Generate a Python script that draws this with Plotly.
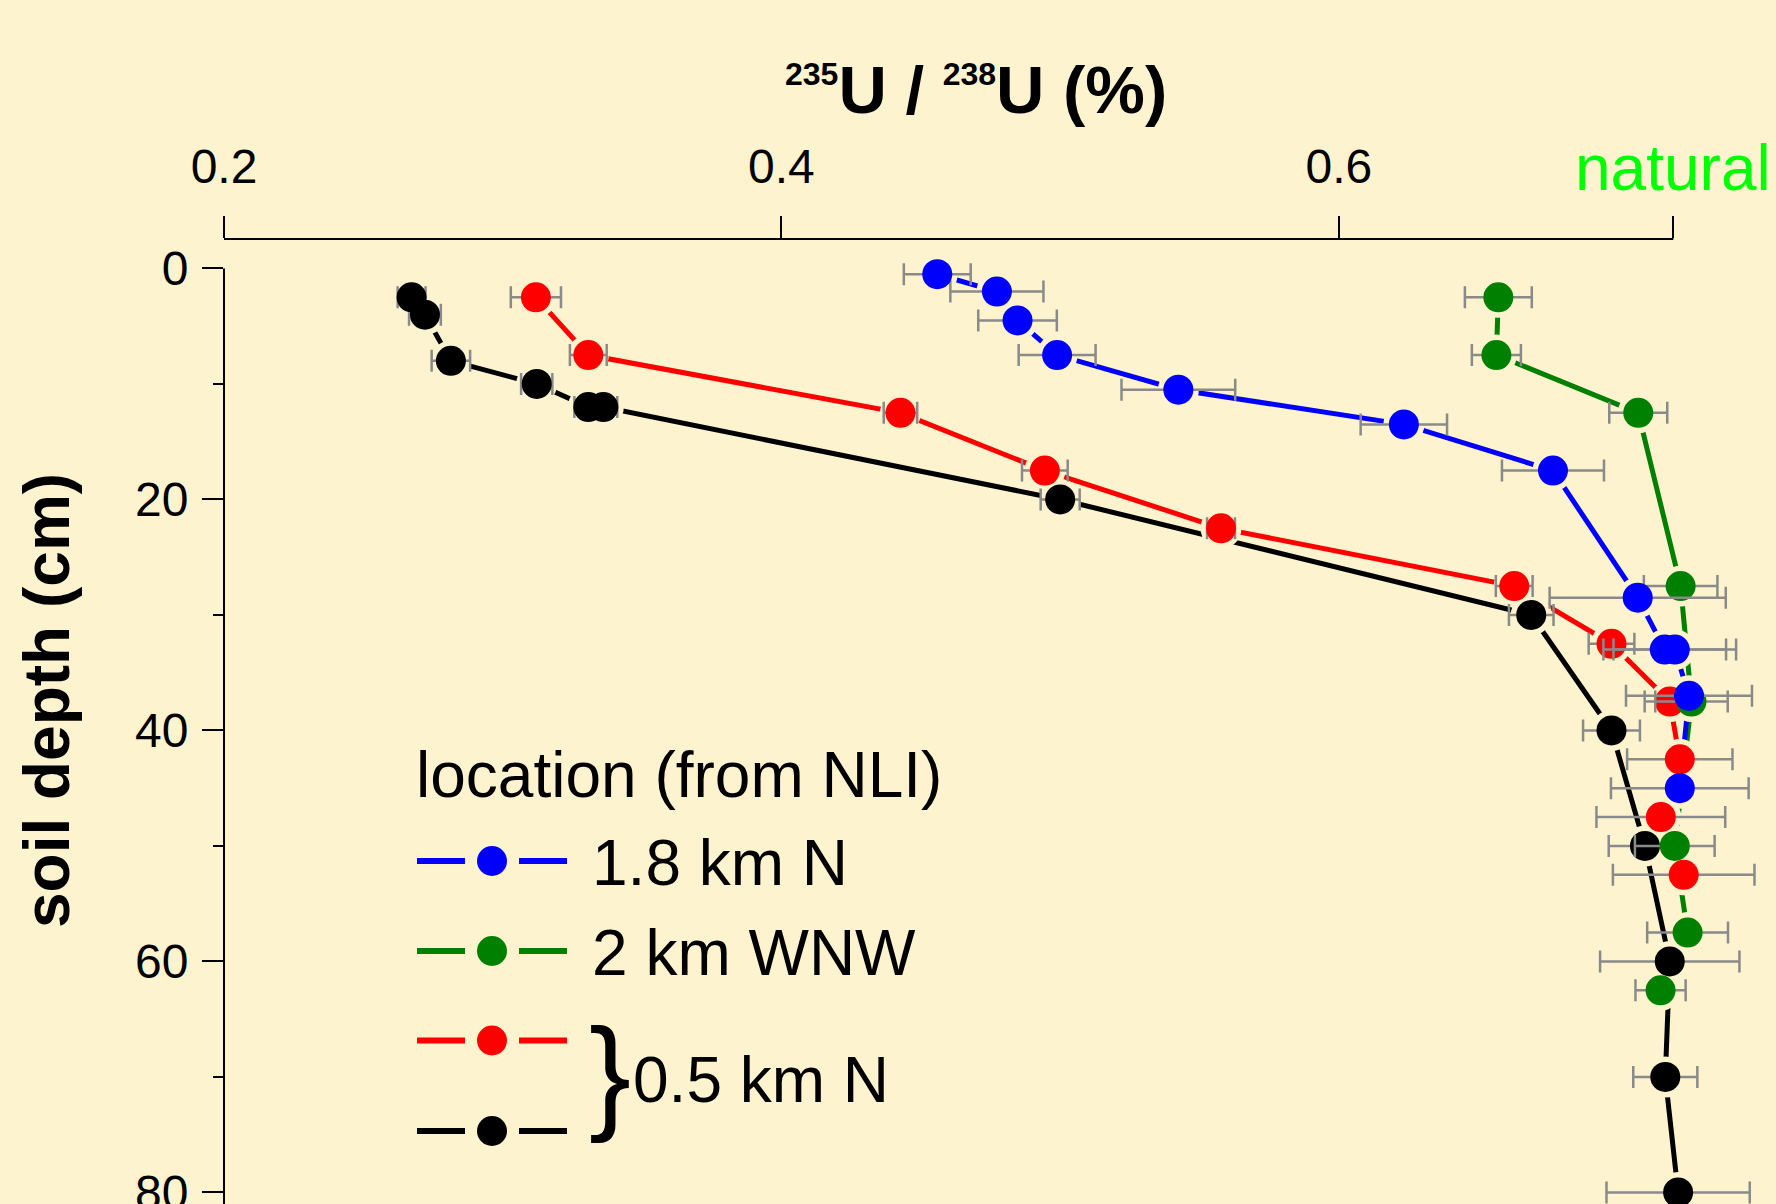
import plotly.graph_objects as go

# ---------------- data ----------------
blue_x = [0.4559, 0.4773, 0.4847, 0.4989, 0.5424, 0.6233, 0.6768, 0.7072, 0.7169, 0.7205, 0.7256, 0.7223]
blue_depth = [0.5, 2.0, 4.5, 7.5, 10.5, 13.5, 17.5, 28.5, 33.0, 33.0, 37.0, 45.0]
blue_err = [0.012, 0.0167, 0.0141, 0.0138, 0.0204, 0.0155, 0.0183, 0.0316, 0.022, 0.022, 0.0226, 0.0247]

green_x = [0.6572, 0.6565, 0.7074, 0.7226, 0.7265, 0.7205, 0.7251, 0.7154]
green_depth = [2.5, 7.5, 12.5, 27.5, 37.5, 50.0, 57.5, 62.5]
green_err = [0.012, 0.0088, 0.0104, 0.0132, 0.013, 0.0143, 0.0145, 0.009]

red_x = [0.3119, 0.3307, 0.4427, 0.4945, 0.5577, 0.6629, 0.6978, 0.7187, 0.7223, 0.7155, 0.7237]
red_depth = [2.5, 7.5, 12.5, 17.5, 22.5, 27.5, 32.5, 37.5, 42.5, 47.5, 52.5]
red_err = [0.009, 0.0066, 0.006, 0.0082, 0.005, 0.0066, 0.0082, 0.009, 0.0189, 0.0231, 0.0254]

black_x = [0.2673, 0.2721, 0.2814, 0.3122, 0.3307, 0.3361, 0.5000, 0.6690, 0.6978, 0.7098, 0.7187, 0.7171, 0.7217]
black_depth = [2.5, 4.0, 8.0, 10.0, 12.0, 12.0, 20.0, 30.0, 40.0, 50.0, 60.0, 70.0, 80.0]
black_err = [0.005, 0.0057, 0.0069, 0.0056, 0.005, 0.005, 0.007, 0.008, 0.0102, 0.013, 0.025, 0.0115, 0.0257]

x_tick_vals = [0.2, 0.4, 0.6]
x_tick_text = ["0.2", "0.4", "0.6"]
natural_value = 0.72
y_tick_vals = [0, 20, 40, 60, 80]
y_minor_vals = [10, 30, 50, 70]

legend_title = "location (from NLI)"
legend_labels = ["1.8 km N", "2 km WNW", "0.5 km N"]

# ---------------- style ----------------
BG = "#fdf3cf"
FONT = "Liberation Sans, Arial, sans-serif"
C_BLUE, C_GREEN, C_RED, C_BLACK = "#0000ff", "#008000", "#ff0000", "#000000"
ERR_C = "#8a8a8a"

W, H = 1776, 1204
ML, MR, MT, MB = 224, 19, 239, 0
PW = W - ML - MR
PH = H - MT - MB


def px(x):
    return (x - ML) / PW


def py(y):
    return (H - MB - y) / PH


series = [
    ("0.5 km N (b)", black_x, black_depth, black_err, C_BLACK),
    ("0.5 km N (a)", red_x, red_depth, red_err, C_RED),
    ("2 km WNW", green_x, green_depth, green_err, C_GREEN),
    ("1.8 km N", blue_x, blue_depth, blue_err, C_BLUE),
]

fig = go.Figure()
# connecting lines
for name, x, y, e, c in series:
    fig.add_trace(go.Scatter(x=x, y=y, mode="lines", line=dict(color=c, width=5),
                             showlegend=False, hoverinfo="skip"))
# background halos to create gaps between lines and symbols
for name, x, y, e, c in series:
    fig.add_trace(go.Scatter(x=x, y=y, mode="markers", marker=dict(size=41, color=BG),
                             showlegend=False, hoverinfo="skip"))
# symbols with error bars
for name, x, y, e, c in series:
    fig.add_trace(go.Scatter(x=x, y=y, mode="markers", name=name,
                             marker=dict(size=30, color=c),
                             error_x=dict(type="data", array=e, color=ERR_C, thickness=2.5, width=11),
                             showlegend=False))

shapes = [
    # x axis line (ends at natural value)
    dict(type="line", xref="x", yref="paper", x0=x_tick_vals[0], x1=natural_value, y0=1, y1=1,
         line=dict(color="black", width=2), layer="below"),
    # y axis line (starts at depth 0)
    dict(type="line", xref="paper", yref="y", x0=0, x1=0, y0=0, y1=81,
         line=dict(color="black", width=2), layer="below"),
]

annotations = []
# legend
rows = [(861, C_BLUE, legend_labels[0]), (951, C_GREEN, legend_labels[1]),
        (1040.5, C_RED, None), (1131, C_BLACK, None)]
for ry, c, lab in rows:
    for a, b in [(417, 465), (519, 567)]:
        shapes.append(dict(type="line", xref="paper", yref="paper", x0=px(a), x1=px(b), y0=py(ry), y1=py(ry),
                           line=dict(color=c, width=6)))
    shapes.append(dict(type="circle", xref="paper", yref="paper", xsizemode="pixel", ysizemode="pixel",
                       xanchor=px(492), yanchor=py(ry), x0=-15, x1=15, y0=-15, y1=15,
                       fillcolor=c, line=dict(width=0)))
    if lab:
        annotations.append(dict(text=lab, xref="paper", yref="paper", x=px(590), y=py(ry + 2),
                                xanchor="left", yanchor="middle", showarrow=False,
                                font=dict(size=64, family=FONT, color="black")))
annotations.append(dict(text=legend_title, xref="paper", yref="paper", x=px(414), y=py(775),
                        xanchor="left", yanchor="middle", showarrow=False,
                        font=dict(size=64, family=FONT, color="black")))
annotations.append(dict(text="}", xref="paper", yref="paper", x=px(587), y=py(1073),
                        xanchor="left", yanchor="middle", showarrow=False,
                        font=dict(size=126, family=FONT, color="black")))
annotations.append(dict(text=legend_labels[2], xref="paper", yref="paper", x=px(631), y=py(1080),
                        xanchor="left", yanchor="middle", showarrow=False,
                        font=dict(size=64, family=FONT, color="black")))
# "natural" label
annotations.append(dict(text="natural", xref="x", yref="paper", x=natural_value, y=py(168),
                        xanchor="center", yanchor="middle", showarrow=False,
                        font=dict(size=64, family=FONT, color="#00ff00")))
# axis titles
annotations.append(dict(
    text="<b><sup><span style='font-size:32px'>235</span></sup>U / <sup><span style='font-size:32px'>238</span></sup>U (%)</b>",
    xref="paper", yref="paper", x=px(976), y=py(90), xanchor="center", yanchor="middle",
    showarrow=False, font=dict(size=67, family=FONT, color="black")))
annotations.append(dict(text="<b>soil depth (cm)</b>", xref="paper", yref="paper", x=px(47), y=py(701),
                        xanchor="center", yanchor="middle", textangle=-90, showarrow=False,
                        font=dict(size=64, family=FONT, color="black")))

fig.update_layout(
    width=W, height=H,
    margin=dict(l=ML, r=MR, t=MT, b=MB, pad=0, autoexpand=False),
    paper_bgcolor=BG, plot_bgcolor=BG,
    font=dict(family=FONT, size=48, color="black"),
    showlegend=False,
    xaxis=dict(side="top", range=[0.2, 0.75], tickmode="array", tickvals=x_tick_vals, ticktext=x_tick_text,
               ticks="outside", ticklen=22, tickwidth=2, tickcolor="black", showline=False,
               ticklabelstandoff=14, automargin=False,
               showgrid=False, zeroline=False, tickfont=dict(size=48, family=FONT),
               minor=dict(tickmode="array", tickvals=[natural_value], ticks="outside", ticklen=22,
                          tickwidth=2, tickcolor="black")),
    yaxis=dict(range=[81, -2.55], tickmode="array", tickvals=y_tick_vals,
               ticks="outside", ticklen=21, tickwidth=2, tickcolor="black", showline=False,
               ticklabelstandoff=4, ticklabeloverflow="allow", automargin=False,
               showgrid=False, zeroline=False, tickfont=dict(size=48, family=FONT),
               minor=dict(tickmode="array", tickvals=y_minor_vals, ticks="outside", ticklen=10,
                          tickwidth=2, tickcolor="black")),
    shapes=shapes,
    annotations=annotations,
)

fig.write_html("out.html", config={"displayModeBar": False},
               post_script="document.body.style.margin='0px';document.body.style.overflow='hidden';")
